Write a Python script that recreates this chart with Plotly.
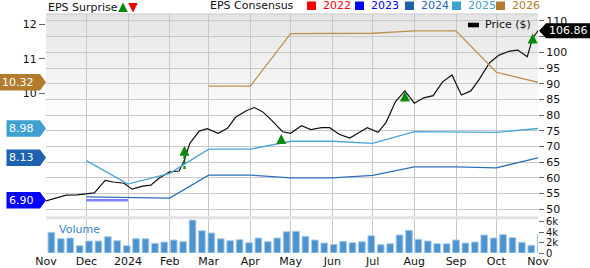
import plotly.graph_objects as go
import pandas as pd

# ---------------- data ----------------
price_dates = ["2023-11-01", "2023-11-10", "2023-11-16", "2023-11-24", "2023-12-07", "2023-12-15",
               "2023-12-21", "2023-12-29", "2024-01-04", "2024-01-12", "2024-01-18", "2024-01-24",
               "2024-02-01", "2024-02-08", "2024-02-12", "2024-02-16", "2024-02-23", "2024-02-29",
               "2024-03-08", "2024-03-15", "2024-03-21", "2024-03-29", "2024-04-04", "2024-04-10",
               "2024-04-16", "2024-04-25", "2024-05-01", "2024-05-09", "2024-05-16", "2024-05-24",
               "2024-05-30", "2024-06-06", "2024-06-14", "2024-06-20", "2024-06-27", "2024-07-05",
               "2024-07-11", "2024-07-18", "2024-07-25", "2024-08-01", "2024-08-08", "2024-08-15",
               "2024-08-22", "2024-08-29", "2024-09-05", "2024-09-12", "2024-09-18", "2024-09-26",
               "2024-10-03", "2024-10-11", "2024-10-17", "2024-10-24", "2024-10-28", "2024-11-01"]
price_values = [52.7, 53.7, 54.5, 54.6, 55.2, 59.2, 58.7, 58.3, 56.4, 57.4, 57.7, 59.9,
                61.9, 62.2, 65.7, 71.0, 74.9, 75.7, 74.2, 75.8, 79.3, 81.4, 82.4, 81.1,
                78.7, 74.7, 74.2, 76.6, 75.4, 76.0, 76.0, 73.9, 72.7, 74.2, 76.0, 74.5,
                77.7, 84.3, 87.7, 83.8, 85.5, 86.2, 90.6, 92.8, 86.4, 87.7, 91.2, 96.7,
                99.1, 100.4, 100.7, 98.6, 104.5, 106.86]

month_dates = ["2023-11-01", "2023-12-01", "2024-01-01", "2024-02-01", "2024-03-01", "2024-04-01",
               "2024-05-01", "2024-06-01", "2024-07-01", "2024-08-01", "2024-09-01", "2024-10-01",
               "2024-11-01"]
month_labels = ["Nov", "Dec", "2024", "Feb", "Mar", "Apr", "May", "Jun", "Jul", "Aug", "Sep", "Oct", "Nov"]

eps_years = ["2022", "2023", "2024", "2025", "2026"]
eps_colors = ["#ff0000", "#0000ff", "#1d62ae", "#3fa0d2", "#b27b2d"]
eps_line_colors = ["#ff0000", "#7d7dff", "#2f6fba", "#49a6d8", "#c09050"]

eps_2023_dates = ["2023-12-01", "2024-01-01"]
eps_2023 = [6.90, 6.90]
eps_2024_dates = month_dates[1:]
eps_2024 = [7.00, 6.98, 6.96, 7.63, 7.63, 7.55, 7.55, 7.62, 7.87, 7.87, 7.84, 8.13]
eps_2025_dates = month_dates[1:]
eps_2025 = [8.05, 7.37, 7.68, 8.38, 8.38, 8.61, 8.61, 8.55, 8.89, 8.89, 8.87, 8.98]
eps_2026_dates = month_dates[4:]
eps_2026 = [10.21, 10.21, 11.73, 11.73, 11.74, 11.81, 11.81, 10.61, 10.32]

surprise_dates = ["2024-02-12", "2024-04-24", "2024-07-25", "2024-10-28"]
surprise_tips = [70.2, 74.0, 87.5, 106.0]

volume_start = "2023-11-05"
volume_k = [4.0, 2.77, 2.9, 1.41, 2.32, 2.32, 3.15, 2.38, 1.41, 2.77, 2.77, 1.87, 2.13, 2.51,
            2.19, 6.38, 4.31, 3.87, 2.77, 2.38, 2.58, 1.99, 2.9, 2.19, 2.9, 4.12,
            4.19, 3.22, 2.51, 1.93, 1.67, 2.25, 1.99, 2.19, 3.35, 1.61, 1.8, 3.48, 4.38,
            2.64, 2.32, 1.8, 1.8, 2.51, 1.93, 2.13, 3.48, 2.9, 3.55, 2.97, 2.06, 1.48, 3.55]
volume_dates = pd.date_range(volume_start, periods=len(volume_k), freq="7D")

price_ticks = list(range(50, 111, 5))
price_tick_text = ["" if t == 105 else str(t) for t in price_ticks]  # 105 sits under the price tag
eps_ticks = [10, 11, 12]
vol_ticks = [0, 2, 4, 6]
vol_tick_text = ["0", "2k", "4k", "6k"]

# ---------------- layout geometry ----------------
W, H = 590, 268
ML, MR, MT, MB = 46, 52, 14, 15
PH = H - MT - MB          # plot height in px
PW = W - ML - MR


def py(px_y):             # pixel y -> paper y
    return (H - MB - px_y) / PH


def pxx(px_x):            # pixel x -> paper x
    return (px_x - ML) / PW


FONT = "DejaVu Sans"
GREEN = "#0a8a0a"
fig = go.Figure()

# volume bars
fig.add_trace(go.Bar(x=volume_dates, y=volume_k, xaxis="x", yaxis="y3",
                     width=5 * 86400000,
                     marker=dict(color="#4d93cf", line=dict(color="#a9cdea", width=1)),
                     hoverinfo="skip"))

# EPS consensus lines
eps_series = [(eps_2023_dates, eps_2023, 1), (eps_2024_dates, eps_2024, 2),
              (eps_2025_dates, eps_2025, 3), (eps_2026_dates, eps_2026, 4)]
for d, v, idx in eps_series:
    fig.add_trace(go.Scatter(x=d, y=v, xaxis="x", yaxis="y2", mode="lines",
                             line=dict(color=eps_line_colors[idx], width=2.4 if idx == 1 else 1.3),
                             hoverinfo="skip"))

# price line
fig.add_trace(go.Scatter(x=price_dates, y=price_values, xaxis="x", yaxis="y4", mode="lines",
                         line=dict(color="#111111", width=1.2), hoverinfo="skip"))

# dashed stem for the first surprise
fig.add_trace(go.Scatter(x=[surprise_dates[0], surprise_dates[0]],
                         y=[price_values[13] + 0.6, surprise_tips[0] - 2.0],
                         xaxis="x", yaxis="y4", mode="lines",
                         line=dict(color=GREEN, width=2.2, dash="3px,2px"), hoverinfo="skip"))

shapes = []
# gradient background of price pane
top_px, end_px = MT, 122
steps = 36
for i in range(steps):
    y0 = top_px + (end_px - top_px) * i / steps
    y1 = top_px + (end_px - top_px) * (i + 1) / steps
    c = int(229 + (255 - 229) * (i + 0.5) / steps)
    shapes.append(dict(type="rect", xref="paper", yref="paper", x0=0, x1=1,
                       y0=py(y1), y1=py(y0), line=dict(width=0),
                       fillcolor=f"rgb({c},{c},{c})", layer="below"))
# top border
shapes.append(dict(type="line", xref="paper", yref="paper", x0=0, x1=1, y0=1, y1=1,
                   line=dict(color="#c8c8c8", width=1)))
# separator band between panes
shapes.append(dict(type="rect", xref="paper", yref="paper", x0=0, x1=1,
                   y0=py(219.2), y1=py(216.2), line=dict(width=0), fillcolor="#e2e2e2"))

annotations = []

# left EPS value tags
last_vals = [(eps_2026, 4), (eps_2025, 3), (eps_2024, 2), (eps_2023, 1)]
for vals, idx in last_vals:
    v = vals[-1]
    txt = f"{v:.2f}"
    tw = sum(3.5 if ch == "." else 7 for ch in txt)
    left = -(15 + tw)
    shapes.append(dict(type="path", xref="paper", yref="y2", xsizemode="pixel", ysizemode="pixel",
                       xanchor=0, yanchor=v,
                       path=f"M {left},-8.3 L -6,-8.3 L 0,0 L -6,8.3 L {left},8.3 Z",
                       fillcolor=eps_colors[idx], line=dict(width=0)))
    annotations.append(dict(xref="paper", yref="y2", x=0, y=v, xanchor="right", yanchor="middle",
                            xshift=-10, text=txt, showarrow=False,
                            font=dict(family=FONT, size=11, color="white")))

# right price tag
last_price = price_values[-1]
shapes.append(dict(type="path", xref="paper", yref="y4", xsizemode="pixel", ysizemode="pixel",
                   xanchor=1, yanchor=last_price,
                   path="M 1,0 L 8,7.6 L 52,7.6 L 52,-7.6 L 8,-7.6 Z",
                   fillcolor="#000000", line=dict(width=0)))
annotations.append(dict(xref="paper", yref="y4", x=1, y=last_price, xanchor="left", yanchor="middle",
                        xshift=9, text=f"{last_price:.2f}", showarrow=False,
                        font=dict(family=FONT, size=11, color="white")))

# surprise arrows
for d, t in zip(surprise_dates, surprise_tips):
    annotations.append(dict(xref="x", yref="y4", x=d, y=t, ax=0, ay=10, text="",
                            showarrow=True, arrowhead=2, arrowsize=0.8, arrowwidth=2.5,
                            arrowcolor=GREEN, standoff=0))

# top legend
annotations.append(dict(xref="paper", yref="paper", x=0, y=py(7), xanchor="left", yanchor="middle",
                        text="EPS Surprise", showarrow=False,
                        font=dict(family=FONT, size=11, color="#111")))
annotations.append(dict(xref="paper", yref="paper", x=pxx(123), y=py(2.5), ax=0, ay=10, text="",
                        showarrow=True, arrowhead=2, arrowsize=0.8, arrowwidth=2.4,
                        arrowcolor=GREEN, standoff=0))
annotations.append(dict(xref="paper", yref="paper", x=pxx(133), y=py(12.5), ax=0, ay=-10, text="",
                        showarrow=True, arrowhead=2, arrowsize=0.8, arrowwidth=2.4,
                        arrowcolor="#ee0000", standoff=0))
annotations.append(dict(xref="paper", yref="paper", x=pxx(208), y=py(5.5), xanchor="left",
                        yanchor="middle", text="EPS Consensus", showarrow=False,
                        font=dict(family=FONT, size=11, color="#111")))
sq_x = [307, 355, 405, 452, 496]
for yr, col, sx in zip(eps_years, eps_colors, sq_x):
    shapes.append(dict(type="rect", xref="paper", yref="paper", x0=pxx(sx), x1=pxx(sx + 9),
                       y0=py(10), y1=py(1.5), fillcolor=col, line=dict(width=0)))
    annotations.append(dict(xref="paper", yref="paper", x=pxx(sx + 14), y=py(5.5), xanchor="left",
                            yanchor="middle", text=yr, showarrow=False,
                            font=dict(family=FONT, size=11, color=col)))

# price legend
shapes.append(dict(type="rect", xref="paper", yref="paper", x0=pxx(468), x1=pxx(479),
                   y0=py(27.3), y1=py(22.7), fillcolor="#000", line=dict(width=0)))
annotations.append(dict(xref="paper", yref="paper", x=pxx(483), y=py(25), xanchor="left",
                        yanchor="middle", text="Price ($)", showarrow=False,
                        font=dict(family=FONT, size=11, color="#111")))

# volume label
annotations.append(dict(xref="paper", yref="paper", x=pxx(57), y=py(229), xanchor="left",
                        yanchor="middle", text="Volume", showarrow=False,
                        font=dict(family=FONT, size=11, color="#3a88c8")))

price_dom = [py(216.2), 1]
vol_dom = [0, py(219.2)]
p_top = 100 + (52.3 - MT) / 3.14
p_bot = 100 - (216.2 - 52.3) / 3.14
e_top = 12 + (24.3 - MT) / 34.5
e_bot = 10 - (216.2 - 93.3) / 34.5
v_top = (H - MB - 219.2) / 5.17

tickfont = dict(family=FONT, size=11, color="#111")
fig.update_layout(
    width=W, height=H, margin=dict(l=ML, r=MR, t=MT, b=MB, autoexpand=False),
    paper_bgcolor="white", plot_bgcolor="rgba(0,0,0,0)",
    showlegend=False, shapes=shapes, annotations=annotations,
    xaxis=dict(type="date", range=[month_dates[0], month_dates[-1]], anchor="y3",
               tickvals=month_dates, ticktext=month_labels, ticks="", showgrid=True,
               gridcolor="#c8c8c8", gridwidth=1, showline=False, zeroline=False,
               tickfont=tickfont, automargin=False),
    yaxis4=dict(domain=price_dom, range=[p_bot, p_top], side="right", anchor="x",
                tickvals=price_ticks, ticktext=price_tick_text, ticks="outside", ticklen=5,
                tickcolor="#666", showgrid=True, gridcolor="#c8c8c8", zeroline=False,
                showline=False, tickfont=tickfont, automargin=False),
    yaxis2=dict(domain=price_dom, range=[e_bot, e_top], overlaying="y4", side="left", anchor="x",
                tickvals=eps_ticks, ticks="outside", ticklen=6, tickcolor="#666",
                showgrid=False, zeroline=False, showline=False, tickfont=tickfont,
                automargin=False),
    yaxis3=dict(domain=vol_dom, range=[0, v_top], side="right", anchor="x",
                tickvals=vol_ticks, ticktext=vol_tick_text, ticks="outside", ticklen=5,
                tickcolor="#666", showgrid=False, zeroline=False, showline=False,
                tickfont=dict(family=FONT, size=10, color="#111"), automargin=False),
    yaxis=dict(domain=price_dom, visible=False, overlaying="y4"),
)

fig.write_html("out.html")
